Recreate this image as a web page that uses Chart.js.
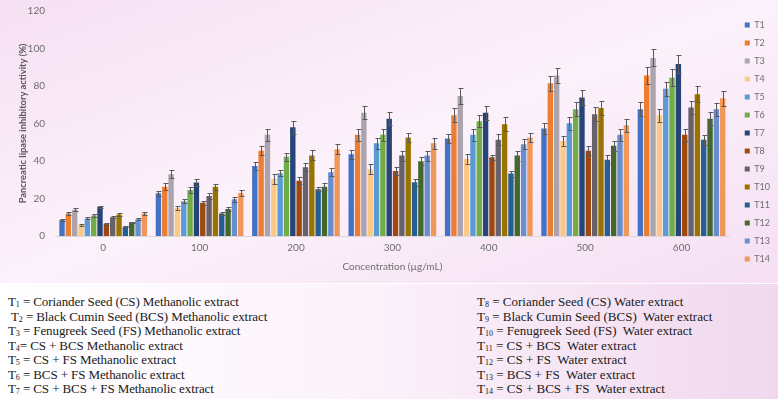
<!DOCTYPE html>
<html>
<head>
<meta charset="utf-8">
<script src="https://cdn.jsdelivr.net/npm/chart.js@4"></script>
<style>
  html, body { margin: 0; padding: 0; }
  body { width: 778px; height: 399px; overflow: hidden; position: relative; }
  #top {
    position: absolute; left: 0; top: 0; width: 778px; height: 283px;
    background: linear-gradient(160deg, #f6e0f3 0%, #fcf2fb 50%, #f5dff3 100%);
  }
  #notes {
    position: absolute; left: 0; top: 284px; width: 778px; height: 115px;
    background: linear-gradient(90deg, #ffffff 0%, #fbf1fa 50%, #f1d8ee 100%);
    font-family: "Liberation Serif", "Times New Roman", serif;
    font-size: 13px; color: #1a1a1a;
  }
  .col { position: absolute; top: 11px; line-height: 14.5px; white-space: pre; }
  .col sub { font-size: 8px; vertical-align: -1px; line-height: 0; }
</style>
</head>
<body>
<div id="top"><canvas id="chart" width="778" height="283"></canvas></div>
<div id="notes">
  <div class="col" id="left" style="left:8px; letter-spacing:-0.1px"></div>
  <div class="col" id="right" style="left:477px"></div>
</div>
<script>
"use strict";

// Data
const concentrations = ["0", "100", "200", "300", "400", "500", "600"];
const seriesNames = ["T1", "T2", "T3", "T4", "T5", "T6", "T7", "T8", "T9", "T10", "T11", "T12", "T13", "T14"];
const seriesColors = ["#4472c4", "#ed7d31", "#aba3ad", "#fbc985", "#5b9bd5", "#70ad47", "#264478",
  "#9e480e", "#66616a", "#997300", "#255e91", "#43682b", "#698ed0", "#f1975a"];

// one row per treatment, one value per concentration
const values = [
  [8.5, 22.8, 37.4, 43.6, 52.0, 57.3, 67.6],
  [12.0, 26.3, 45.5, 54.0, 64.4, 81.5, 85.6],
  [14.0, 33.0, 54.0, 65.8, 74.7, 85.6, 95.0],
  [6.0, 15.0, 30.4, 35.6, 41.1, 50.7, 64.4],
  [9.4, 18.5, 33.5, 49.5, 54.0, 60.2, 78.5],
  [11.0, 24.5, 42.3, 54.0, 61.2, 67.6, 84.4],
  [15.6, 28.5, 58.0, 62.5, 65.7, 73.9, 91.7],
  [6.5, 17.8, 29.5, 34.7, 42.0, 45.5, 54.0],
  [10.0, 21.4, 36.7, 42.9, 51.4, 65.0, 68.5],
  [11.5, 26.3, 43.0, 52.5, 59.6, 68.3, 75.6],
  [5.0, 12.0, 25.0, 28.7, 33.3, 40.7, 51.4],
  [7.3, 14.4, 26.3, 39.9, 42.9, 48.2, 62.5],
  [9.0, 19.6, 34.0, 42.9, 49.0, 54.0, 67.6],
  [12.0, 23.0, 46.3, 49.5, 52.5, 59.1, 73.5],
];

const errors = [
  [0.5, 1.2, 2.1, 2.3, 2.3, 2.8, 3.7],
  [0.8, 2.0, 2.5, 3.2, 3.7, 4.1, 4.3],
  [0.8, 2.0, 3.2, 3.4, 4.3, 4.1, 4.6],
  [0.4, 0.9, 2.5, 2.7, 2.7, 2.8, 3.6],
  [0.5, 1.1, 1.6, 3.0, 3.2, 3.4, 3.6],
  [0.8, 1.4, 2.1, 3.2, 3.2, 3.7, 4.6],
  [0.6, 2.0, 3.6, 3.4, 3.6, 4.1, 5.0],
  [0.4, 1.1, 1.8, 2.3, 1.4, 2.5, 3.2],
  [0.5, 1.4, 2.1, 2.7, 2.8, 3.6, 3.4],
  [0.7, 1.6, 2.7, 2.3, 3.7, 3.6, 4.3],
  [0.3, 0.7, 1.1, 1.8, 1.6, 2.3, 2.7],
  [0.4, 1.2, 1.8, 2.1, 2.7, 2.7, 3.4],
  [0.5, 1.4, 2.1, 2.7, 2.7, 3.2, 3.4],
  [0.8, 1.4, 2.7, 3.0, 2.3, 3.4, 3.9],
];

const yTicks = [0, 20, 40, 60, 80, 100, 120];

const notesLeft = [
  ["1", " = Coriander Seed (CS) Methanolic extract"],
  ["2", " = Black Cumin Seed (BCS) Methanolic extract"],
  ["3", " = Fenugreek Seed (FS) Methanolic extract"],
  ["4", "= CS + BCS Methanolic extract"],
  ["5", " = CS + FS Methanolic extract"],
  ["6", " = BCS + FS Methanolic extract"],
  ["7", " = CS + BCS + FS Methanolic extract"],
];
const notesRight = [
  ["8", " = Coriander Seed (CS) Water extract"],
  ["9", " = Black Cumin Seed (BCS)  Water extract"],
  ["10", " = Fenugreek Seed (FS)  Water extract"],
  ["11", " = CS + BCS  Water extract"],
  ["12", " = CS + FS  Water extract"],
  ["13", " = BCS + FS  Water extract"],
  ["14", " = CS + BCS + FS  Water extract"],
];

function fillNotes(el, rows, indentSecond) {
  rows.forEach((r, i) => {
    const line = document.createElement("div");
    if (indentSecond && i === 1) line.style.paddingLeft = "3px";
    line.appendChild(document.createTextNode("T"));
    const sub = document.createElement("sub");
    sub.textContent = r[0];
    line.appendChild(sub);
    line.appendChild(document.createTextNode(r[1]));
    el.appendChild(line);
  });
}
fillNotes(document.getElementById("left"), notesLeft, true);
fillNotes(document.getElementById("right"), notesRight, false);

// error bars drawn from the y scale
const errorBars = {
  id: "errorBars",
  afterDatasetsDraw(chart) {
    const ctx = chart.ctx;
    const y = chart.scales.y;
    ctx.save();
    ctx.strokeStyle = "#5a5a5a";
    ctx.lineWidth = 1;
    chart.data.datasets.forEach((ds, di) => {
      const meta = chart.getDatasetMeta(di);
      meta.data.forEach((bar, i) => {
        const v = ds.data[i];
        const e = errors[di][i];
        const x = Math.round(bar.x) + 0.5;
        const top = Math.round(y.getPixelForValue(v + e)) + 0.5;
        const bot = Math.round(y.getPixelForValue(v - e)) + 0.5;
        ctx.beginPath();
        ctx.moveTo(x, top); ctx.lineTo(x, bot);
        ctx.moveTo(x - 2, top); ctx.lineTo(x + 3, top);
        ctx.moveTo(x - 2, bot); ctx.lineTo(x + 3, bot);
        ctx.stroke();
      });
    });
    ctx.restore();
  },
};

// nudge the legend a few px right/down of where chart.js puts it
const legendNudge = {
  id: "legendNudge",
  afterLayout(chart) {
    if (!chart.legend) return;
    chart.legend.left += 6;
    chart.legend.right += 6;
    chart.legend.top += 5;
    chart.legend.bottom += 5;
  },
};

const textColor = "#6e6e6e";

new Chart(document.getElementById("chart"), {
  type: "bar",
  data: {
    labels: concentrations,
    datasets: seriesNames.map((name, i) => ({
      label: name,
      data: values[i],
      backgroundColor: seriesColors[i],
      borderWidth: 0,
      barPercentage: 0.85,
      categoryPercentage: 0.92,
    })),
  },
  options: {
    responsive: false,
    animation: false,
    devicePixelRatio: 1,
    layout: { padding: { left: 15, top: 1, right: 4, bottom: 10 } },
    scales: {
      x: {
        grid: { display: false, drawTicks: false },
        border: { display: true, color: "#d9d9d9" },
        ticks: { color: textColor, font: { family: "Lato", size: 10 }, padding: 6 },
        title: {
          display: true,
          text: "Concentration (\u00b5g/mL)",
          color: textColor,
          font: { family: "Lato", size: 10 },
          padding: { top: 1, bottom: 0 },
        },
      },
      y: {
        min: 0,
        max: 120,
        afterBuildTicks: (scale) => { scale.ticks = yTicks.map((v) => ({ value: v })); },
        afterFit: (scale) => {
          scale.width = 40;
          scale.paddingTop = 11;
        },
        grid: { display: false, drawTicks: false },
        border: { display: false },
        ticks: { color: textColor, font: { family: "Lato", size: 10 }, padding: 10 },
        title: {
          display: true,
          text: "Pancreatic lipase inhibitory activity (%)",
          color: "#595959",
          font: { family: "Lato", size: 9.3, weight: "bold" },
          padding: { top: 2, bottom: 2 },
        },
      },
    },
    plugins: {
      legend: {
        position: "right",
        labels: {
          boxWidth: 5,
          boxHeight: 5,
          padding: 9,
          color: textColor,
          font: { family: "Lato", size: 9 },
        },
      },
      tooltip: { enabled: false },
    },
  },
  plugins: [errorBars, legendNudge],
});
</script>
</body>
</html>
